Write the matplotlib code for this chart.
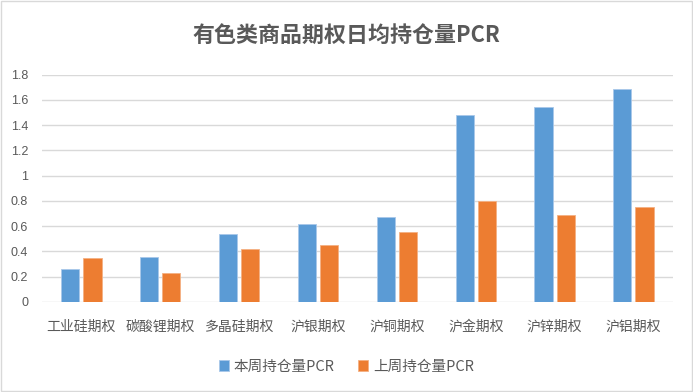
import numpy as np
import matplotlib.pyplot as plt
from matplotlib.patches import Rectangle

plt.rcParams['font.family'] = ['Noto Sans CJK SC', 'DejaVu Sans']
plt.rcParams['axes.unicode_minus'] = False

# 数据
categories = ['工业硅期权', '碳酸锂期权', '多晶硅期权', '沪银期权', '沪铜期权', '沪金期权', '沪锌期权', '沪铝期权']
this_week = [0.264, 0.356, 0.538, 0.620, 0.673, 1.483, 1.541, 1.686]
last_week = [0.348, 0.227, 0.420, 0.451, 0.554, 0.797, 0.686, 0.752]
series_names = ['本周持仓量PCR', '上周持仓量PCR']
yticks = [0, 0.2, 0.4, 0.6, 0.8, 1, 1.2, 1.4, 1.6, 1.8]
ytick_labels = ['0', '0.2', '0.4', '0.6', '0.8', '1', '1.2', '1.4', '1.6', '1.8']

grey = '#595959'
fig = plt.figure(figsize=(6.93, 3.92), dpi=100)
ax = fig.add_axes([0.0606, 0.2296, 0.9104, 0.5798])

x = np.arange(len(categories))
w = 0.23
ax.bar(x - 0.14, this_week, w, color='#5B9BD5', edgecolor='#a9c8ea', linewidth=0.6, label=series_names[0], zorder=3)
ax.bar(x + 0.14, last_week, w, color='#ED7D31', edgecolor='#f4b183', linewidth=0.6, label=series_names[1], zorder=3)

ax.set_xlim(-0.5, len(categories) - 0.5)
ax.set_ylim(0, 1.8)
ax.set_yticks(yticks)
ax.set_yticklabels(ytick_labels, fontsize=9, color=grey, family=['Liberation Sans', 'DejaVu Sans'])
ax.set_xticks(x)
ax.set_xticklabels(categories, fontsize=10, color=grey, fontweight='medium')
ax.tick_params(axis='both', length=0)
ax.tick_params(axis='y', pad=10)
ax.tick_params(axis='x', pad=13)
ax.grid(axis='y', color='#d9d9d9', linewidth=1, zorder=0)
for s in ax.spines.values():
    s.set_visible(False)

fig.text(0.5, 0.91, '有色类商品期权日均持仓量PCR', ha='center', va='center',
         fontsize=15.8, fontweight='bold', color=grey)

fig.legend(loc='center', bbox_to_anchor=(0.5, 0.065), ncol=2, frameon=False,
           fontsize=10.5, labelcolor=grey, handlelength=0.7, handleheight=0.7,
           handletextpad=0.3, columnspacing=1.6)

fig.patches.append(Rectangle((0.001, 0.002), 0.997, 0.995, transform=fig.transFigure,
                             fill=False, edgecolor='#d9d9d9', linewidth=1))

fig.savefig('out.png', dpi=100)
